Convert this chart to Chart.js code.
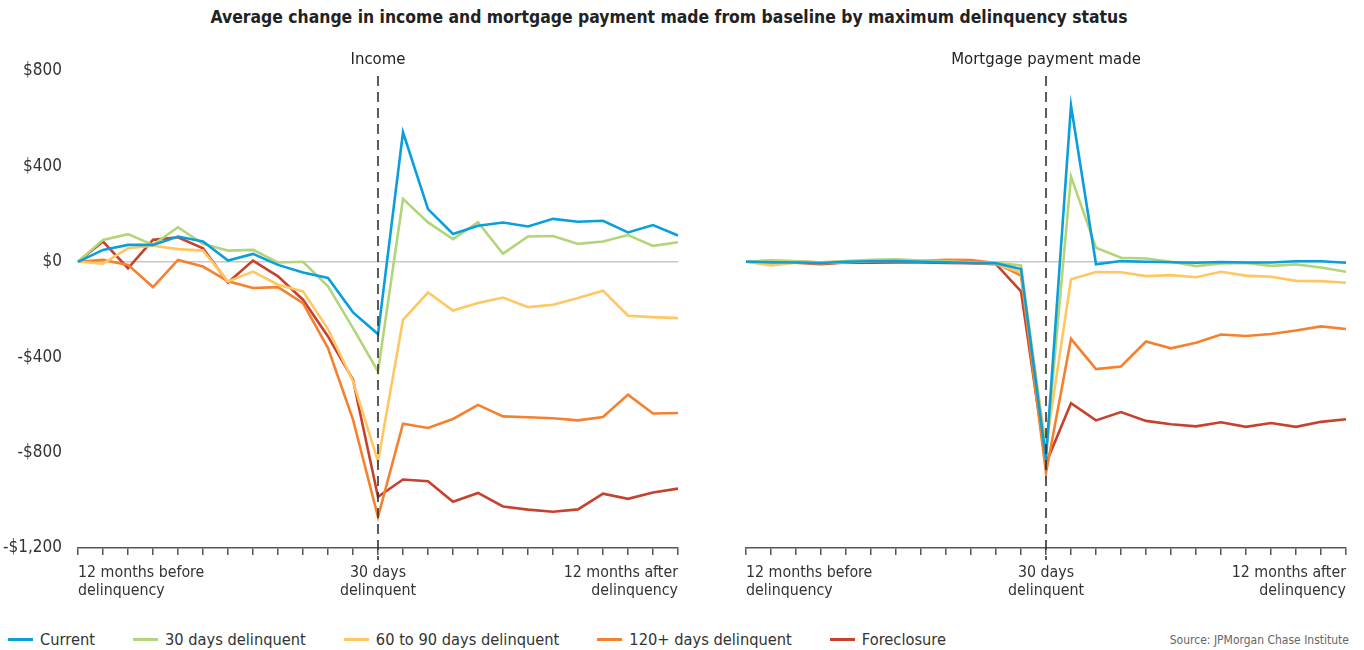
<!DOCTYPE html>
<html>
<head>
<meta charset="utf-8">
<script src="https://cdn.jsdelivr.net/npm/chart.js@4.4.1/dist/chart.umd.min.js"></script>
<style>
  body { margin: 0; background: #fff; width: 1364px; height: 650px; position: relative; overflow: hidden;
         font-family: "Liberation Sans Narrow", "DejaVu Sans Condensed", sans-serif; color: #333; }
  #title { position: absolute; top: 7px; left: 0; width: 1338px; text-align: center; font-weight: bold; font-size: 17.4px; color: #222; }
  .panel { position: absolute; top: 40px; height: 575px; }
  #incomeWrap { left: 0; width: 700px; }
  #mortgageWrap { left: 700px; width: 664px; }
  #legend { position: absolute; top: 630px; left: 8px; display: flex; font-size: 16.3px; color: #333; }
  #legend .item { display: flex; align-items: center; margin-right: 38px; }
  #legend .swatch { width: 25px; height: 3px; margin-right: 7px; }
  #source { position: absolute; top: 633px; right: 15px; font-size: 12px; color: #666; }
</style>
</head>
<body>
<div id="title">Average change in income and mortgage payment made from baseline by maximum delinquency status</div>
<div class="panel" id="incomeWrap"><canvas id="incomeChart"></canvas></div>
<div class="panel" id="mortgageWrap"><canvas id="mortgageChart"></canvas></div>
<div id="legend"></div>
<div id="source">Source: JPMorgan Chase Institute</div>
<script>
const months = [-12,-11,-10,-9,-8,-7,-6,-5,-4,-3,-2,-1,0,1,2,3,4,5,6,7,8,9,10,11,12];
const seriesNames = ["Current", "30 days delinquent", "60 to 90 days delinquent", "120+ days delinquent", "Foreclosure"];
const seriesColors = ["#0a9fdb", "#b3d57a", "#ffc762", "#f5812f", "#c7412f"];

// Income panel
const incCurrent = [0,50,71,71,106,85,5,33,-13,-45,-68,-212,-303,543,221,117,151,165,148,180,168,172,123,154,110];
const incThirty = [0,92,116,71,145,75,47,50,-3,0,-103,-278,-460,264,165,95,166,34,106,108,75,85,112,67,82];
const incSixty = [0,-8,57,67,53,47,-82,-41,-96,-124,-282,-501,-837,-243,-129,-204,-173,-150,-190,-180,-152,-121,-226,-232,-236];
const incOneTwenty = [0,8,-13,-106,8,-20,-82,-110,-106,-173,-362,-662,-1070,-679,-697,-659,-600,-648,-652,-656,-665,-651,-557,-636,-634];
const incForeclosure = [0,85,-27,92,103,57,-87,5,-61,-159,-313,-494,-985,-913,-920,-1006,-969,-1026,-1039,-1048,-1038,-972,-994,-967,-951];

// Mortgage payment panel
const mtgCurrent = [0,-2,-3,-5,0,2,3,0,-2,-5,-6,-30,-825,655,-10,3,0,-2,-4,-1,-3,-3,2,2,-4];
const mtgThirty = [0,6,2,-2,3,8,10,5,2,-3,-4,-15,-805,357,59,17,14,0,-18,-7,-5,-17,-11,-24,-42];
const mtgSixty = [0,-15,-4,-6,-2,3,5,2,0,-4,-8,-45,-775,-73,-43,-44,-60,-56,-65,-42,-58,-63,-80,-81,-88];
const mtgOneTwenty = [0,4,2,-3,0,5,6,3,8,7,-5,-58,-885,-323,-450,-439,-334,-363,-339,-305,-311,-303,-288,-271,-282];
const mtgForeclosure = [0,-2,-4,-10,-3,-4,-3,-3,-5,-6,-10,-124,-845,-593,-665,-630,-667,-681,-690,-673,-692,-676,-692,-671,-660];

const yTicks = [800, 400, 0, -400, -800, -1200];
const yTickLabels = ["$800", "$400", "$0", "-$400", "-$800", "-$1,200"];
const xTickLabels = { 0: ["12 months before", "delinquency"], 12: ["30 days", "delinquent"], 24: ["12 months after", "delinquency"] };

const FONT = "'Liberation Sans Narrow', 'DejaVu Sans Condensed', sans-serif";

// dashed line at month 0 plus the panel heading above it
const markerPlugin = {
  id: 'marker',
  afterDatasetsDraw(chart, args, opts) {
    const ctx = chart.ctx;
    const x = chart.scales.x.getPixelForValue(12);
    const area = chart.chartArea;
    ctx.save();
    ctx.strokeStyle = '#333';
    ctx.lineWidth = 1.6;
    ctx.setLineDash([10, 6]);
    ctx.beginPath();
    ctx.moveTo(x, area.top + 5);
    ctx.lineTo(x, area.bottom + 12);
    ctx.stroke();
    ctx.setLineDash([]);
    ctx.fillStyle = '#222';
    ctx.font = "16.6px " + FONT;
    ctx.textAlign = 'center';
    ctx.textBaseline = 'middle';
    ctx.fillText(opts.heading, x, area.top - 11);
    ctx.restore();
  }
};

function makeDatasets(arrs) {
  return arrs.map((data, i) => ({
    label: seriesNames[i],
    data: data,
    borderColor: seriesColors[i],
    backgroundColor: seriesColors[i],
    borderWidth: 2.6,
    pointRadius: 0,
    tension: 0,
    fill: false
  }));
}

function buildChart(canvasId, arrs, heading, showYLabels, yWidth, padRight) {
  const ctx = document.getElementById(canvasId).getContext('2d');
  return new Chart(ctx, {
    type: 'line',
    data: { labels: months, datasets: makeDatasets(arrs) },
    options: {
      responsive: true,
      maintainAspectRatio: false,
      animation: false,
      layout: { padding: { top: 31, right: padRight, left: 0, bottom: 0 } },
      plugins: {
        legend: { display: false },
        tooltip: { enabled: false },
        marker: { heading: heading }
      },
      scales: {
        x: {
          type: 'category',
          afterFit(scale) { scale.height = 67; },
          border: { display: true, color: '#555', width: 1.5 },
          grid: { drawOnChartArea: false, drawTicks: true, tickLength: 7, color: '#555', lineWidth: 1.5, offset: false },
          offset: false,
          ticks: {
            autoSkip: false,
            maxRotation: 0,
            align: 'inner',
            padding: 9,
            color: '#333',
            font: { family: FONT, size: 15.8, lineHeight: 1.15 },
            callback: (v, i) => xTickLabels[i] || ''
          }
        },
        y: {
          min: -1200,
          max: 800,
          afterFit(scale) { scale.width = yWidth; },
          afterBuildTicks(scale) { scale.ticks = yTicks.map(v => ({ value: v })); },
          border: { display: false },
          grid: {
            drawTicks: false,
            color: c => c.tick && c.tick.value === 0 ? '#c8c8c8' : 'rgba(0,0,0,0)',
            lineWidth: 1.5
          },
          ticks: {
            display: showYLabels,
            padding: 16,
            color: '#333',
            font: { family: FONT, size: 17 },
            callback: v => yTickLabels[yTicks.indexOf(v)]
          }
        }
      }
    },
    plugins: [markerPlugin]
  });
}

buildChart('incomeChart', [incCurrent, incThirty, incSixty, incOneTwenty, incForeclosure], 'Income', true, 78, 22);
buildChart('mortgageChart', [mtgCurrent, mtgThirty, mtgSixty, mtgOneTwenty, mtgForeclosure], 'Mortgage payment made', false, 46, 18);

const legend = document.getElementById('legend');
seriesNames.forEach((name, i) => {
  const item = document.createElement('div');
  item.className = 'item';
  item.innerHTML = `<span class="swatch" style="background:${seriesColors[i]}"></span><span>${name}</span>`;
  legend.appendChild(item);
});
</script>
</body>
</html>
